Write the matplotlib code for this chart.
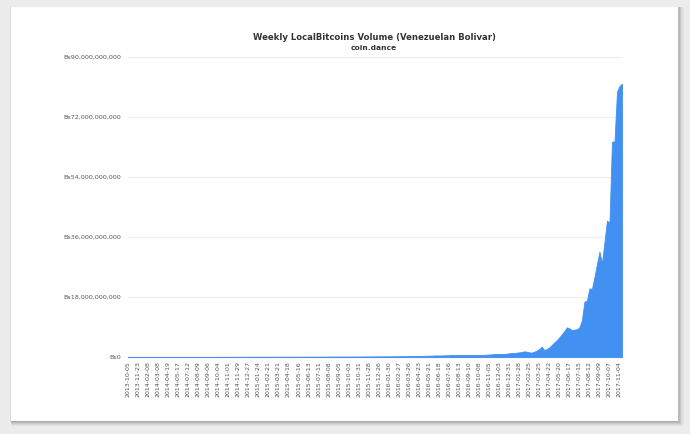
import matplotlib
matplotlib.use("Agg")
import matplotlib.pyplot as plt
from matplotlib.patches import Rectangle
from matplotlib.ticker import FuncFormatter, FixedLocator

# ---- data ----
tick_labels = [
    "2013-10-05", "2013-11-23", "2014-02-08", "2014-03-08", "2014-04-19", "2014-05-17",
    "2014-07-12", "2014-08-09", "2014-09-06", "2014-10-04", "2014-11-01", "2014-11-29",
    "2014-12-27", "2015-01-24", "2015-02-21", "2015-03-21", "2015-04-18", "2015-05-16",
    "2015-06-13", "2015-07-11", "2015-08-08", "2015-09-05", "2015-10-03", "2015-10-31",
    "2015-11-28", "2015-12-26", "2016-01-30", "2016-02-27", "2016-03-26", "2016-04-23",
    "2016-05-21", "2016-06-18", "2016-07-16", "2016-08-13", "2016-09-10", "2016-10-08",
    "2016-11-05", "2016-12-03", "2016-12-31", "2017-01-28", "2017-02-25", "2017-03-25",
    "2017-04-22", "2017-05-20", "2017-06-17", "2017-07-15", "2017-08-12", "2017-09-09",
    "2017-10-07", "2017-11-04",
]

# weekly volume, billions of VEF (198 weeks, one every category)
volume_bn_weeks_000_039 = [
    0.003, 0.004, 0.003, 0.005, 0.004, 0.006, 0.005, 0.007, 0.006, 0.008,
    0.007, 0.009, 0.008, 0.010, 0.009, 0.011, 0.010, 0.012, 0.011, 0.013,
    0.015, 0.014, 0.016, 0.018, 0.017, 0.019, 0.020, 0.019, 0.022, 0.021,
    0.023, 0.025, 0.024, 0.026, 0.028, 0.027, 0.030, 0.029, 0.031, 0.033,
]
volume_bn_weeks_040_079 = [
    0.034, 0.036, 0.035, 0.038, 0.040, 0.039, 0.042, 0.044, 0.043, 0.046,
    0.048, 0.047, 0.050, 0.052, 0.051, 0.054, 0.056, 0.055, 0.058, 0.060,
    0.062, 0.065, 0.064, 0.068, 0.070, 0.072, 0.071, 0.075, 0.078, 0.080,
    0.082, 0.085, 0.084, 0.088, 0.090, 0.093, 0.092, 0.096, 0.098, 0.100,
]
volume_bn_weeks_080_139 = [
    0.105, 0.110, 0.108, 0.115, 0.120, 0.118, 0.125, 0.130, 0.128, 0.135,
    0.140, 0.138, 0.145, 0.150, 0.155, 0.160, 0.158, 0.165, 0.170, 0.175,
    0.180, 0.185, 0.190, 0.200, 0.195, 0.205, 0.215, 0.220, 0.230, 0.240,
    0.250, 0.260, 0.270, 0.285, 0.300, 0.310, 0.330, 0.345, 0.360, 0.380,
    0.400, 0.420, 0.440, 0.460, 0.450, 0.470, 0.500, 0.520, 0.550, 0.580,
    0.560, 0.580, 0.600, 0.590, 0.610, 0.620, 0.600, 0.630, 0.640, 0.620,
]
volume_bn_weeks_140_197 = [
    0.600, 0.630, 0.660, 0.700, 0.750, 0.800, 0.850, 0.900, 0.950, 0.900,
    0.950, 1.000, 1.100, 1.200, 1.200, 1.300, 1.400, 1.500, 1.700, 1.600,
    1.400, 1.300, 1.600, 1.900, 2.400, 3.100, 2.100, 2.400, 2.900, 3.600,
    4.400, 5.000, 5.900, 6.800, 7.800, 8.900, 8.600, 8.100, 8.200, 8.300,
    8.900, 11.00, 16.60, 16.90, 20.60, 20.40, 24.00, 27.80, 31.60, 28.10,
    34.50, 40.90, 40.30, 64.60, 64.60, 79.60, 81.30, 82.00,
]
volume_bn = (volume_bn_weeks_000_039 + volume_bn_weeks_040_079
             + volume_bn_weeks_080_139 + volume_bn_weeks_140_197)
volume = [v * 1e9 for v in volume_bn]
weeks = list(range(len(volume)))

y_ticks = [0, 18e9, 36e9, 54e9, 72e9, 90e9]

# ---- figure ----
W, H = 690, 434
fig = plt.figure(figsize=(W / 100, H / 100), dpi=100)
fig.patch.set_facecolor("#ececec")
renderer = fig.canvas.get_renderer()


def fit_font(txt, target_px, horizontal=True):
    """Scale a text's font size so that its rendered extent matches target_px."""
    bb = txt.get_window_extent(renderer=renderer)
    cur = bb.width if horizontal else bb.height
    if cur > 0:
        txt.set_fontsize(txt.get_fontsize() * target_px / cur)
    return txt.get_fontsize()


# card with soft shadow
cx0, cy0, cx1, cy1 = 11, 7, 678, 421
for i, a in enumerate([0.04, 0.05, 0.06, 0.07, 0.08]):
    off = 5 - i
    fig.patches.append(Rectangle(((cx0 - 1 + off * 0.3) / W, 1 - (cy1 + off) / H),
                                 (cx1 - cx0 + off) / W, (cy1 - cy0 + off) / H,
                                 transform=fig.transFigure, facecolor="#000000",
                                 alpha=a, edgecolor="none", zorder=0))
fig.patches.append(Rectangle((cx0 / W, 1 - cy1 / H), (cx1 - cx0) / W, (cy1 - cy0) / H,
                             transform=fig.transFigure, facecolor="white",
                             edgecolor="none", zorder=1))

px0, px1, py0, py1 = 128, 622, 57, 357
ax = fig.add_axes([px0 / W, 1 - py1 / H, (px1 - px0) / W, (py1 - py0) / H])
ax.set_zorder(2)
ax.patch.set_alpha(0)

ax.fill_between(weeks, volume, 0, color="#4290f2", linewidth=0.6, edgecolor="#4290f2", zorder=3)

ax.set_xlim(0, len(volume) - 1)
ax.set_ylim(0, 90e9)

ax.set_yticks(y_ticks)
ax.yaxis.set_major_formatter(FuncFormatter(lambda v, p: "Bs{:,.0f}".format(v)))
ax.grid(axis="y", color="#eeeeee", linewidth=0.9, zorder=0)

# size tick fonts to match reference extents
probe = fig.text(0, 0, "Bs90,000,000,000", fontsize=5)
ysize = fit_font(probe, 59)
probe.set_text("2013-10-05")
probe.set_fontsize(5)
xsize = fit_font(probe, 37)
probe.remove()

ax.tick_params(axis="y", length=0, pad=5, labelsize=ysize, labelcolor="#555555")
ax.xaxis.set_major_locator(FixedLocator(list(range(0, 4 * len(tick_labels), 4))))
ax.set_xticklabels(tick_labels, rotation=90, fontsize=xsize, color="#555555")
ax.tick_params(axis="x", length=0, pad=3)

for s in ["top", "right", "left"]:
    ax.spines[s].set_visible(False)
ax.spines["bottom"].set_color("#ccd6eb")
ax.spines["bottom"].set_linewidth(1.0)
ax.spines["bottom"].set_zorder(2)

title = fig.text(374 / W, 1 - 37.3 / H, "Weekly LocalBitcoins Volume (Venezuelan Bolivar)",
                 ha="center", va="center", fontsize=6, fontweight="bold",
                 color="#333333", zorder=5)
fit_font(title, 246)
sub = fig.text(374 / W, 1 - 47.7 / H, "coin.dance", ha="center", va="center",
               fontsize=5.5, fontweight="bold", color="#333333", zorder=5)
fit_font(sub, 46)

fig.savefig("out.png", dpi=100, facecolor=fig.get_facecolor())
